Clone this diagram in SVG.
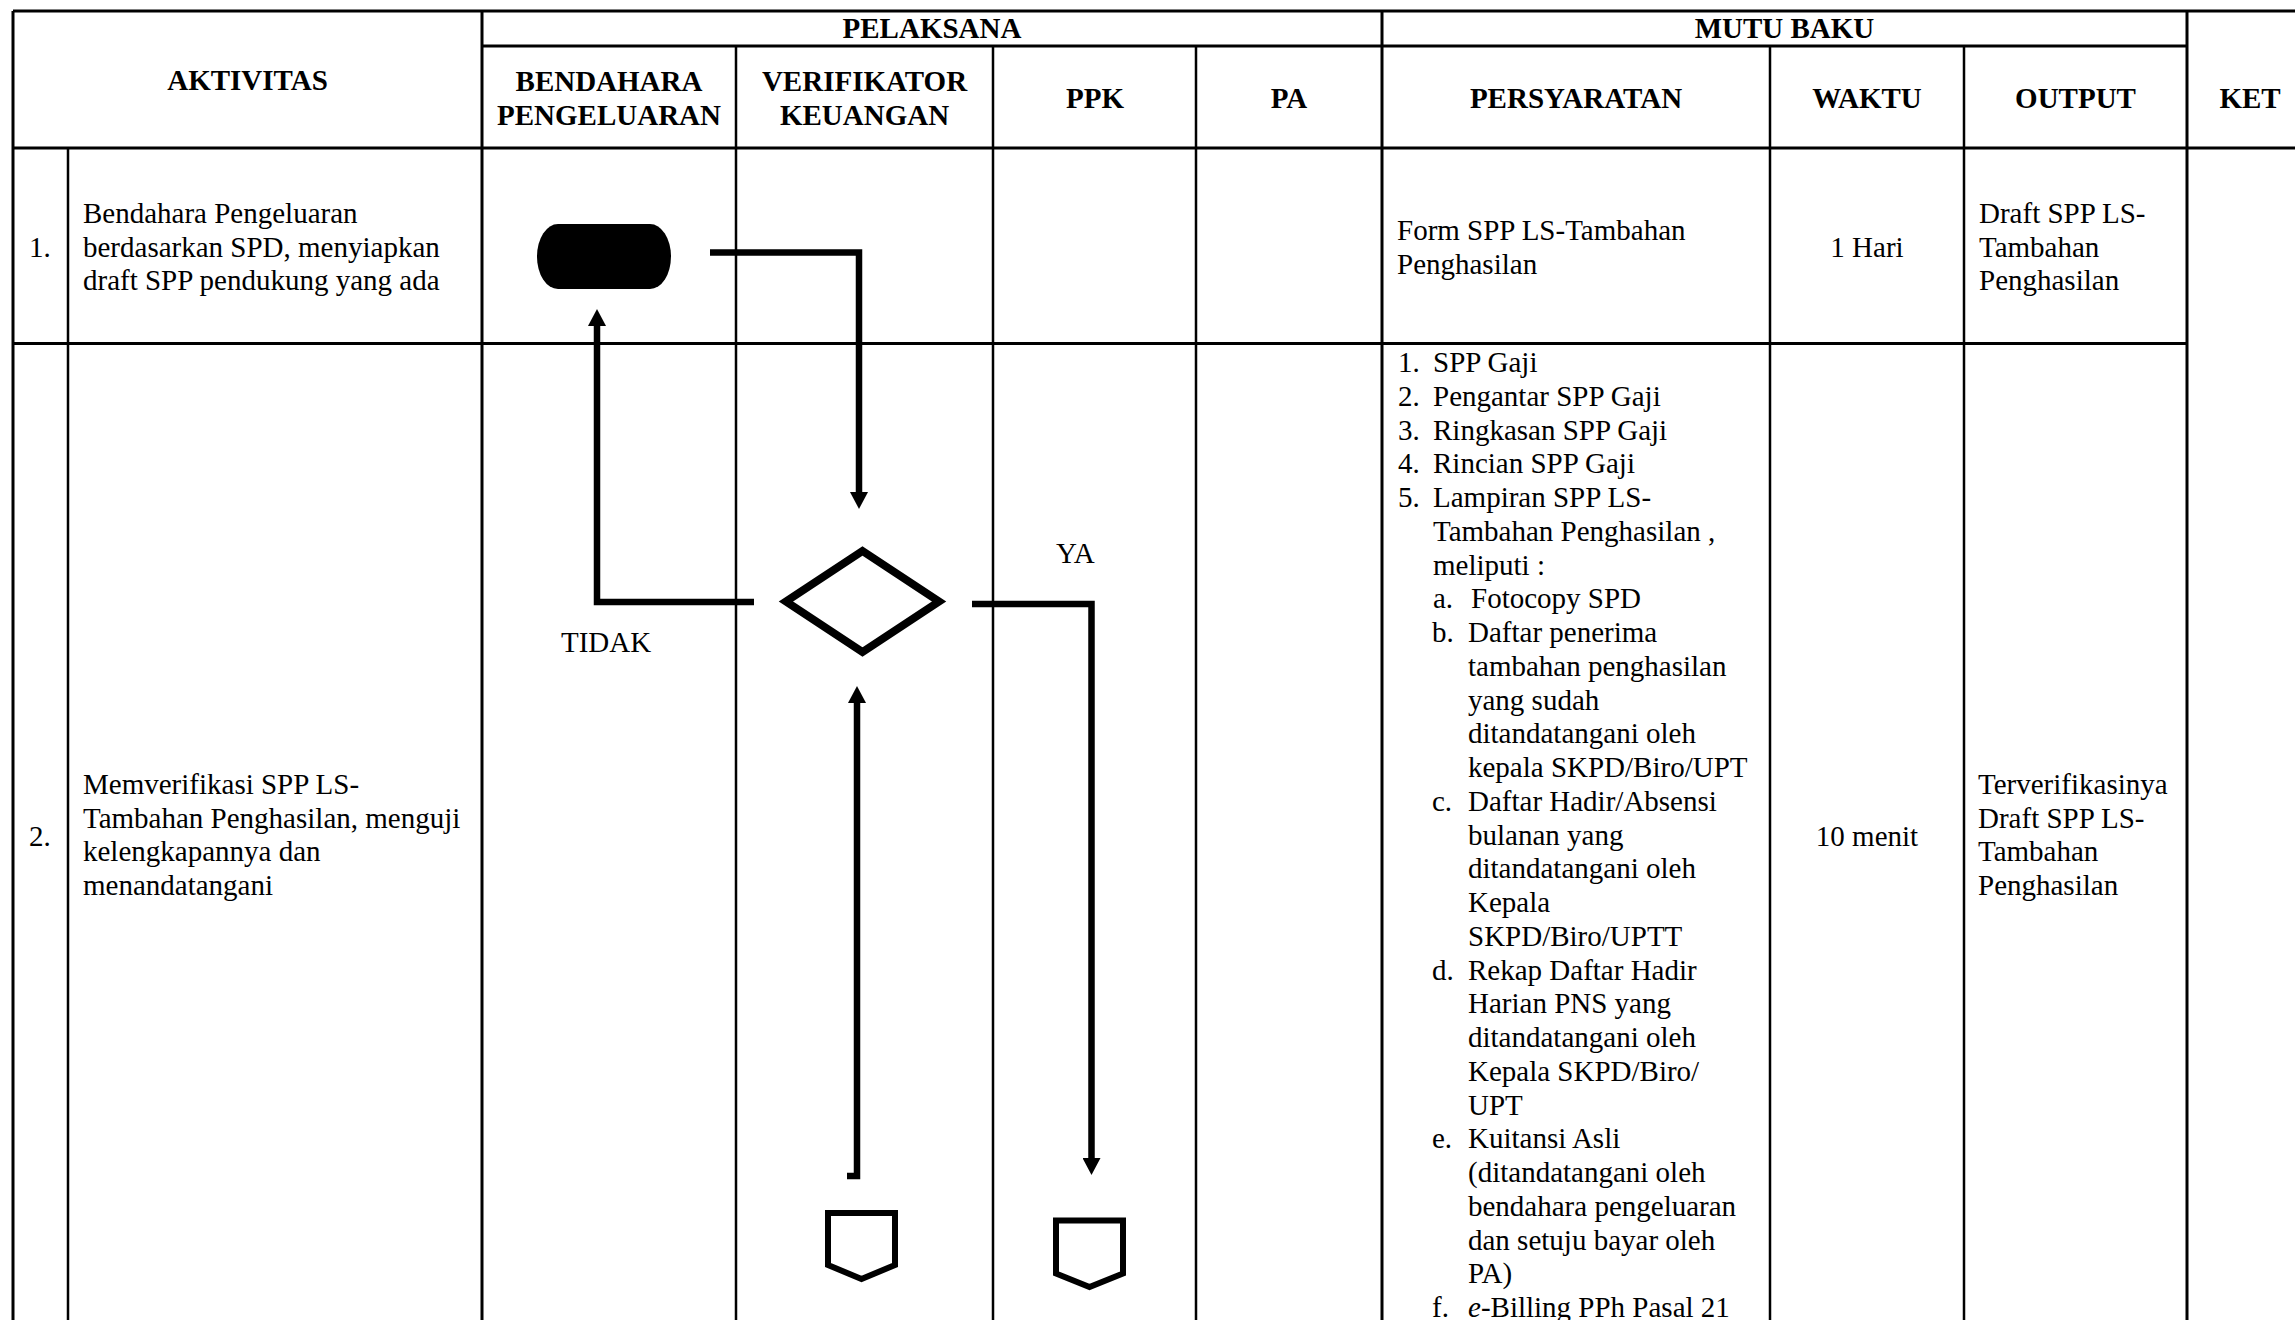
<svg xmlns="http://www.w3.org/2000/svg" width="2295" height="1320" viewBox="0 0 2295 1320">
  <style>
    text { font-family: "Liberation Serif", "Times New Roman", serif; font-size: 29px; fill: #000; }
    .hd { font-weight: bold; text-anchor: middle; }
    .mid { text-anchor: middle; }
    .grid line { stroke: #000; stroke-width: 3; }
    .grid line.in { stroke-width: 2.5; }
    .flow { fill: none; stroke: #000; stroke-width: 6.5; stroke-linejoin: miter; }
    .shape { fill: #fff; stroke: #000; }
  </style>
  <defs>
    <marker id="arrow" markerUnits="userSpaceOnUse" markerWidth="17" markerHeight="18" refX="0" refY="9" orient="auto">
      <path d="M0,0 L17,9 L0,18 Z" fill="#000"/>
    </marker>
  </defs>

  <rect x="0" y="0" width="2295" height="1320" fill="#fff"/>

  <!-- table rules -->
  <g id="grid" class="grid">
    <line x1="13" y1="11" x2="2295" y2="11"/>
    <line x1="482" y1="46" x2="2187" y2="46"/>
    <line x1="13" y1="148" x2="2295" y2="148"/>
    <line x1="13" y1="343.5" x2="2187" y2="343.5"/>
    <line x1="13" y1="11" x2="13" y2="1320"/>
    <line class="in" x1="68" y1="148" x2="68" y2="1320"/>
    <line x1="482" y1="11" x2="482" y2="1320"/>
    <line class="in" x1="736" y1="46" x2="736" y2="1320"/>
    <line class="in" x1="993" y1="46" x2="993" y2="1320"/>
    <line class="in" x1="1196" y1="46" x2="1196" y2="1320"/>
    <line x1="1382" y1="11" x2="1382" y2="1320"/>
    <line class="in" x1="1770" y1="46" x2="1770" y2="1320"/>
    <line class="in" x1="1964" y1="46" x2="1964" y2="1320"/>
    <line x1="2187" y1="11" x2="2187" y2="1320"/>
  </g>

  <!-- column headings -->
  <g id="headings">
    <text class="hd" x="932" y="38">PELAKSANA</text>
    <text class="hd" x="1784.5" y="38">MUTU BAKU</text>
    <text class="hd" x="247.5" y="90">AKTIVITAS</text>
    <text class="hd" x="609" y="91">BENDAHARA</text>
    <text class="hd" x="609" y="125">PENGELUARAN</text>
    <text class="hd" x="864.5" y="91">VERIFIKATOR</text>
    <text class="hd" x="864.5" y="125">KEUANGAN</text>
    <text class="hd" x="1095" y="108">PPK</text>
    <text class="hd" x="1289" y="108">PA</text>
    <text class="hd" x="1576" y="108">PERSYARATAN</text>
    <text class="hd" x="1867" y="108">WAKTU</text>
    <text class="hd" x="2075.5" y="108">OUTPUT</text>
    <text class="hd" x="2250" y="108">KET</text>
  </g>

  <!-- step 1 -->
  <g id="row1">
    <text x="29" y="257">1.</text>
    <text x="83" y="223">Bendahara Pengeluaran</text>
    <text x="83" y="257">berdasarkan SPD, menyiapkan</text>
    <text x="83" y="290">draft SPP pendukung yang ada</text>
    <text x="1397" y="240">Form SPP LS-Tambahan</text>
    <text x="1397" y="273.5">Penghasilan</text>
    <text class="mid" x="1867" y="257">1 Hari</text>
    <text x="1979" y="223">Draft SPP LS-</text>
    <text x="1979" y="257">Tambahan</text>
    <text x="1979" y="290">Penghasilan</text>
  </g>

  <!-- step 2 -->
  <g id="row2">
    <text x="29" y="846">2.</text>
    <text x="83" y="794">Memverifikasi SPP LS-</text>
    <text x="83" y="827.5">Tambahan Penghasilan, menguji</text>
    <text x="83" y="861">kelengkapannya dan</text>
    <text x="83" y="894.5">menandatangani</text>
    <text class="mid" x="1867" y="846">10 menit</text>
    <text x="1978" y="794">Terverifikasinya</text>
    <text x="1978" y="827.5">Draft SPP LS-</text>
    <text x="1978" y="861">Tambahan</text>
    <text x="1978" y="894.5">Penghasilan</text>
  </g>

  <!-- requirement list of step 2 -->
  <g id="row2-requirements">
    <text x="1398" y="372">1.</text><text x="1433" y="372">SPP Gaji</text>
    <text x="1398" y="405.75">2.</text><text x="1433" y="405.75">Pengantar SPP Gaji</text>
    <text x="1398" y="439.5">3.</text><text x="1433" y="439.5">Ringkasan SPP Gaji</text>
    <text x="1398" y="473.25">4.</text><text x="1433" y="473.25">Rincian SPP Gaji</text>
    <text x="1398" y="507">5.</text><text x="1433" y="507">Lampiran SPP LS-</text>
    <text x="1433" y="540.75">Tambahan Penghasilan ,</text>
    <text x="1433" y="574.5">meliputi :</text>
    <text x="1433" y="608.25">a.</text><text x="1471" y="608.25">Fotocopy SPD</text>
    <text x="1432" y="642">b.</text><text x="1468" y="642">Daftar penerima</text>
    <text x="1468" y="675.75">tambahan penghasilan</text>
    <text x="1468" y="709.5">yang sudah</text>
    <text x="1468" y="743.25">ditandatangani oleh</text>
    <text x="1468" y="777">kepala SKPD/Biro/UPT</text>
    <text x="1432" y="810.75">c.</text><text x="1468" y="810.75">Daftar Hadir/Absensi</text>
    <text x="1468" y="844.5">bulanan yang</text>
    <text x="1468" y="878.25">ditandatangani oleh</text>
    <text x="1468" y="912">Kepala</text>
    <text x="1468" y="945.75">SKPD/Biro/UPTT</text>
    <text x="1432" y="979.5">d.</text><text x="1468" y="979.5">Rekap Daftar Hadir</text>
    <text x="1468" y="1013.25">Harian PNS yang</text>
    <text x="1468" y="1047">ditandatangani oleh</text>
    <text x="1468" y="1080.75">Kepala SKPD/Biro/</text>
    <text x="1468" y="1114.5">UPT</text>
    <text x="1432" y="1148.25">e.</text><text x="1468" y="1148.25">Kuitansi Asli</text>
    <text x="1468" y="1182">(ditandatangani oleh</text>
    <text x="1468" y="1215.75">bendahara pengeluaran</text>
    <text x="1468" y="1249.5">dan setuju bayar oleh</text>
    <text x="1468" y="1283.25">PA)</text>
    <text x="1432" y="1317">f.</text><text x="1468" y="1317"><tspan font-style="italic">e</tspan>-Billing PPh Pasal 21</text>
  </g>

  <!-- flow symbols -->
  <g id="node-start">
    <rect x="537" y="224" width="134" height="65" rx="21" ry="32.5" fill="#000"/>
  </g>
  <g id="node-check">
    <polygon class="shape" stroke-width="8" points="862.5,551 939,601.5 862.5,652 786,601.5"/>
  </g>
  <g id="node-offpage-verifikator">
    <polygon class="shape" stroke-width="6" points="828,1213 895,1213 895,1265 861.5,1279 828,1265"/>
  </g>
  <g id="node-offpage-ppk">
    <polygon class="shape" stroke-width="6" points="1056,1220.5 1123,1220.5 1123,1273.5 1089.5,1287 1056,1273.5"/>
  </g>

  <!-- connectors -->
  <g id="connectors">
    <path class="flow" d="M710,252.5 H859 V492" marker-end="url(#arrow)"/>
    <path class="flow" d="M754,602 H597 V326" marker-end="url(#arrow)"/>
    <path class="flow" d="M972,604 H1091.5 V1158" marker-end="url(#arrow)"/>
    <path class="flow" d="M847,1176 H857 V703" marker-end="url(#arrow)"/>
    <text x="561" y="652">TIDAK</text>
    <text x="1056" y="563">YA</text>
  </g>
</svg>
